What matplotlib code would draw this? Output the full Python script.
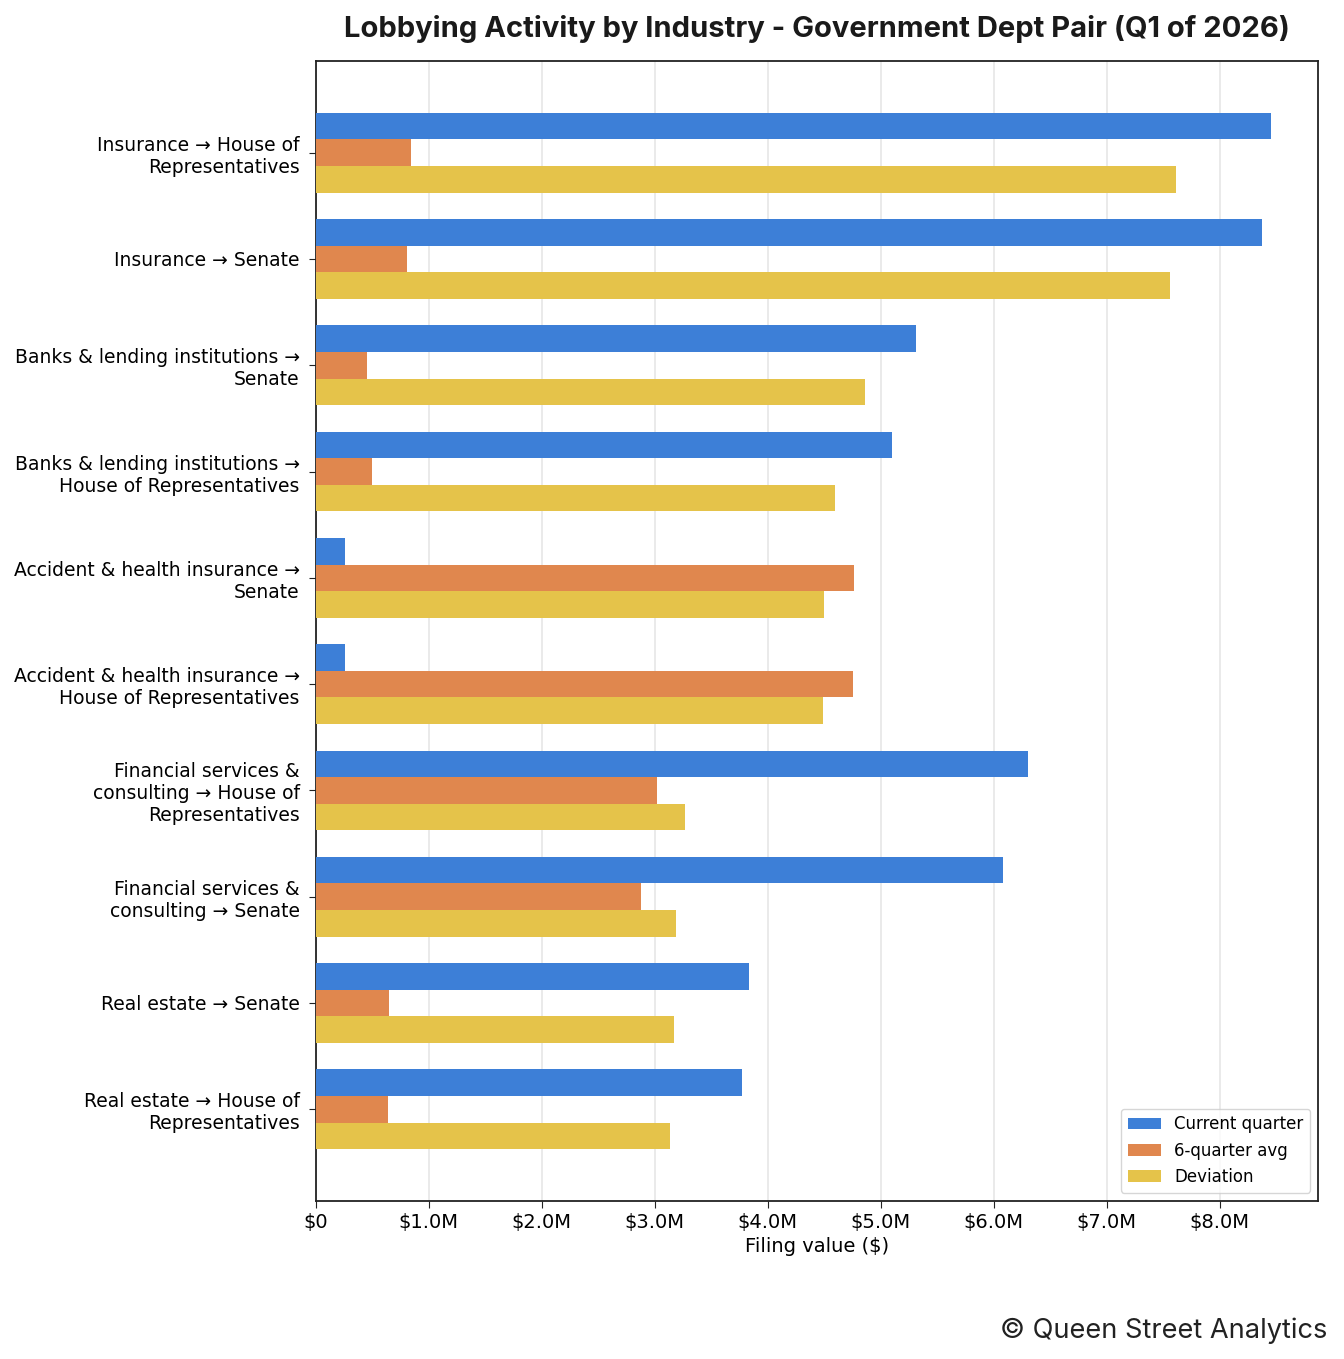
import numpy as np
import matplotlib
matplotlib.use("Agg")
import matplotlib.pyplot as plt
from matplotlib.ticker import FuncFormatter

# data (values in $M)
labels = [
    "Insurance \u2192 House of\nRepresentatives",
    "Insurance \u2192 Senate",
    "Banks & lending institutions \u2192\nSenate",
    "Banks & lending institutions \u2192\nHouse of Representatives",
    "Accident & health insurance \u2192\nSenate",
    "Accident & health insurance \u2192\nHouse of Representatives",
    "Financial services &\nconsulting \u2192 House of\nRepresentatives",
    "Financial services &\nconsulting \u2192 Senate",
    "Real estate \u2192 Senate",
    "Real estate \u2192 House of\nRepresentatives",
]
current = [8.45, 8.37, 5.31, 5.10, 0.26, 0.26, 6.30, 6.08, 3.83, 3.77]
avg6 = [0.84, 0.81, 0.45, 0.50, 4.76, 4.75, 3.02, 2.88, 0.65, 0.64]
deviation = [7.61, 7.56, 4.86, 4.59, 4.50, 4.49, 3.27, 3.19, 3.17, 3.13]

series_names = ["Current quarter", "6-quarter avg", "Deviation"]
colors = ["#3d7fd7", "#e0874e", "#e5c34a"]

fig = plt.figure(figsize=(13.44, 13.59), dpi=100)
ax = fig.add_axes([0.235, 0.1163, 0.746, 0.8388])

y = np.arange(len(labels))
h = 0.25
vals = [np.array(current) * 1e6, np.array(avg6) * 1e6, np.array(deviation) * 1e6]
for i in range(3):
    ax.barh(y + (i - 1) * h, vals[i], height=h, color=colors[i], label=series_names[i], zorder=3)

ax.set_yticks(y)
ax.set_yticklabels(labels, fontsize=13.5)
ax.invert_yaxis()

def money(v, pos):
    if v == 0:
        return "$0"
    return "${:.1f}M".format(v / 1e6)

ax.xaxis.set_major_formatter(FuncFormatter(money))
ax.set_xticks(np.arange(0, 9e6, 1e6))
ax.tick_params(axis="x", labelsize=14, length=5, color="#222222")
ax.tick_params(axis="y", length=5, pad=6.5, color="#222222")
ax.set_xlabel("Filing value ($)", fontsize=14)
ax.grid(axis="x", color="#e6e6e6", linewidth=1.2, zorder=0)
ax.set_axisbelow(True)
for s in ax.spines.values():
    s.set_color("#222222")
    s.set_linewidth(1.3)

ax.legend(loc="lower right", fontsize=12, frameon=True, edgecolor="#cccccc")

fig.text(0.608, 0.979, "Lobbying Activity by Industry - Government Dept Pair (Q1 of 2026)",
         ha="center", va="center", fontsize=21, fontweight="bold", family="Inter", color="#1a1a1a")
fig.text(0.988, 0.021, "\u00a9 Queen Street Analytics", ha="right", va="center",
         fontsize=19.6, family="Inter", color="#222222")

fig.savefig("out.png", dpi=100)
